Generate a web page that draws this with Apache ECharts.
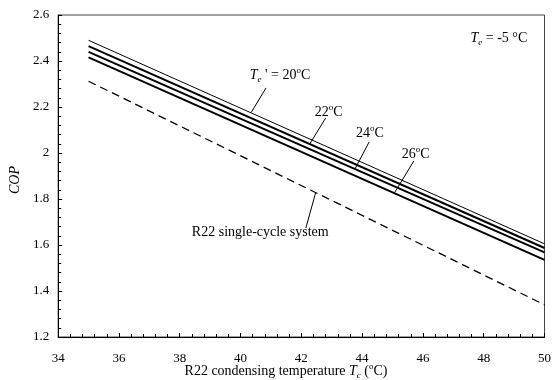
<!DOCTYPE html>
<html><head><meta charset="utf-8">
<script src="https://cdn.jsdelivr.net/npm/echarts@6/dist/echarts.min.js"></script>
<style>html,body{margin:0;padding:0;background:#fff}#c{width:554px;height:380px}</style>
</head><body><div id="c"></div>
<script>
// condensing temperature (x)
const xData = [35, 50];
// COP series
const te20 = [2.490, 1.605];
const te22 = [2.465, 1.587];
const te24 = [2.440, 1.568];
const te26 = [2.416, 1.535];
const single = [2.312, 1.340];
// annotation anchors in data coordinates
const labelText = ['te20', 'te22', 'te24', 'te26', 'te', 'r22'];
const labelX = [41.30, 42.90, 44.26, 45.76, 48.50, 40.65];
const labelY = [2.339, 2.178, 2.087, 1.996, 2.500, 1.656];
const leaderX1 = [40.84, 42.80, 44.23, 45.70, 42.15];
const leaderY1 = [2.283, 2.152, 2.048, 1.965, 1.674];
const leaderX2 = [40.35, 42.28, 43.77, 45.07, 42.47];
const leaderY2 = [2.176, 2.040, 1.932, 1.828, 1.827];

const FF = 'Liberation Serif';
const rich = {
  n: {fontFamily: FF, fontSize: 14, lineHeight: 18, color: '#000'},
  i: {fontFamily: FF, fontSize: 14, lineHeight: 18, fontStyle: 'italic', color: '#000'},
  sub: {fontFamily: FF, fontSize: 9, lineHeight: 9, fontStyle: 'italic', verticalAlign: 'bottom', color: '#000'},
  sup: {fontFamily: FF, fontSize: 9, lineHeight: 9, verticalAlign: 'top', color: '#000'}
};
const texts = {
  te20: "{i|T}{sub|e}{n| ' = 20}{sup|o}{n|C}",
  te22: '{n|22}{sup|o}{n|C}',
  te24: '{n|24}{sup|o}{n|C}',
  te26: '{n|26}{sup|o}{n|C}',
  te: '{i|T}{sub|e}{n| = -5 °C}',
  r22: '{n|R22 single-cycle system}'
};

function pairs(ys) { return xData.map((x, i) => [x, ys[i]]); }

const chart = echarts.init(document.getElementById('c'));
const lineBase = {type: 'line', symbol: 'none', silent: true, animation: false};
chart.setOption({
  animation: false,
  grid: {left: 56, top: 15, right: 7, bottom: 43, show: true, borderColor: '#444', borderWidth: 1},
  xAxis: {
    type: 'value', min: 34, max: 50, interval: 2,
    axisLine: {lineStyle: {color: '#000', width: 1}},
    axisTick: {inside: true, length: 4, lineStyle: {color: '#000'}},
    minorTick: {show: true, splitNumber: 5, length: 3, lineStyle: {color: '#000'}},
    splitLine: {show: false},
    axisLabel: {fontFamily: FF, fontSize: 13, color: '#000', margin: 15}
  },
  yAxis: {
    type: 'value', min: 1.2, max: 2.6, interval: 0.2,
    name: 'COP', nameLocation: 'middle', nameGap: 32,
    nameTextStyle: {fontFamily: FF, fontSize: 14, fontStyle: 'italic', color: '#000', padding: [0, 8, 0, 0]},
    axisLine: {show: true, lineStyle: {color: '#000', width: 1}},
    axisTick: {show: true, inside: true, length: 4, lineStyle: {color: '#000'}},
    minorTick: {show: true, splitNumber: 5, length: 3, lineStyle: {color: '#000'}},
    splitLine: {show: false},
    axisLabel: {fontFamily: FF, fontSize: 13, color: '#000', margin: 9,
      formatter: v => String(Math.round(v * 10) / 10)}
  },
  series: [
    Object.assign({}, lineBase, {name: '20', data: pairs(te20), lineStyle: {color: '#000', width: 1}}),
    Object.assign({}, lineBase, {name: '22', data: pairs(te22), lineStyle: {color: '#000', width: 2}}),
    Object.assign({}, lineBase, {name: '24', data: pairs(te24), lineStyle: {color: '#000', width: 2}}),
    Object.assign({}, lineBase, {name: '26', data: pairs(te26), lineStyle: {color: '#000', width: 2}}),
    Object.assign({}, lineBase, {name: 'single', data: pairs(single), lineStyle: {color: '#000', width: 1.3, type: [8, 5]}})
  ]
});

const gfx = [];
labelText.forEach((k, i) => {
  const p = chart.convertToPixel({gridIndex: 0}, [labelX[i], labelY[i]]);
  gfx.push({type: 'text', x: p[0], y: p[1], silent: true,
    style: {text: texts[k], rich: rich, align: 'center', verticalAlign: 'middle'}});
});
leaderX1.forEach((x, i) => {
  const a = chart.convertToPixel({gridIndex: 0}, [x, leaderY1[i]]);
  const b = chart.convertToPixel({gridIndex: 0}, [leaderX2[i], leaderY2[i]]);
  gfx.push({type: 'line', silent: true, shape: {x1: a[0], y1: a[1], x2: b[0], y2: b[1]},
    style: {stroke: '#000', lineWidth: 1}});
});
// x-axis title
gfx.push({type: 'text', x: 286, y: 371, silent: true,
  style: {text: '{n|R22 condensing temperature }{i|T}{sub|c}{n| (}{sup|o}{n|C)}', rich: rich,
    align: 'center', verticalAlign: 'middle'}});
chart.setOption({graphic: gfx});
</script>
</body></html>
